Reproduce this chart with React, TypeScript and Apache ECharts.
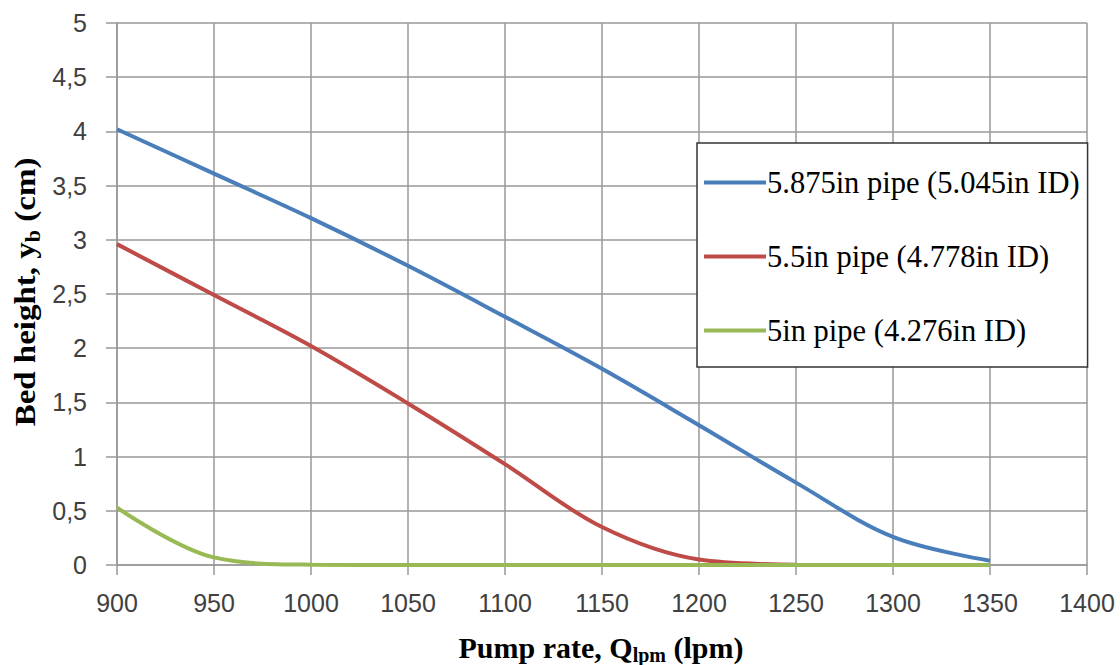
import React, { useEffect, useRef } from "react";
import * as echarts from "echarts";

// Pump rate (lpm) at which bed height was evaluated
const pumpRates = [900, 950, 1000, 1050, 1100, 1150, 1200, 1250, 1300, 1350];

// Bed height (cm) for each pipe size
const pipe5875 = [4.02, 3.61, 3.2, 2.76, 2.29, 1.81, 1.29, 0.76, 0.26, 0.04];
const pipe55 = [2.96, 2.49, 2.02, 1.49, 0.93, 0.35, 0.05, 0.003];
const pipe5 = [0.53, 0.07, 0.003, 0, 0, 0, 0, 0, 0, 0];

const seriesNames = [
  "5.875in pipe (5.045in ID)",
  "5.5in pipe (4.778in ID)",
  "5in pipe (4.276in ID)",
];
const seriesColors = ["#4a7ebb", "#be4b48", "#98b954"];

const pairs = (ys: number[]) => ys.map((y, i) => [pumpRates[i], y]);

export default function App() {
  const ref = useRef<HTMLDivElement>(null);

  useEffect(() => {
    document.body.style.margin = "0";
    const chart = echarts.init(ref.current!, null, { renderer: "svg" });
    const tickFont = {
      fontFamily: "Liberation Sans",
      fontSize: 25,
      color: "#404040",
    };
    const gridLine = { show: true, lineStyle: { color: "#999999", width: 1.5 } };
    const serif = "'Liberation Serif', 'Times New Roman', serif";
    // Main title text plus a lowered subscript token
    const titleRich = {
      a: { fontFamily: serif, fontWeight: "bold", fontSize: 30, lineHeight: 28, fill: "#000" },
      s: {
        fontFamily: serif,
        fontWeight: "bold",
        fontSize: 20,
        lineHeight: 6,
        verticalAlign: "top",
        padding: [12, 0, 0, 0],
        fill: "#000",
      },
    };

    chart.setOption({
      animation: false,
      grid: { left: 117, right: 33, top: 23, bottom: 100 },
      xAxis: {
        type: "value",
        min: 900,
        max: 1400,
        interval: 50,
        axisLine: { show: true, lineStyle: { color: "#999999", width: 1.5 } },
        axisTick: { show: true, length: 10, lineStyle: { color: "#999999", width: 1.5 } },
        splitLine: gridLine,
        axisLabel: { ...tickFont, margin: 25, formatter: (v: number) => String(v) },
      },
      yAxis: {
        type: "value",
        min: 0,
        max: 5,
        interval: 0.5,
        axisLine: { show: true, lineStyle: { color: "#999999", width: 1.5 } },
        axisTick: { show: true, length: 11, lineStyle: { color: "#999999", width: 1.5 } },
        splitLine: gridLine,
        axisLabel: {
          ...tickFont,
          margin: 30,
          formatter: (v: number) => String(v).replace(".", ","),
        },
      },
      legend: {
        orient: "vertical",
        left: 697,
        top: 143,
        padding: [24, 8, 21, 7],
        itemGap: 43,
        itemWidth: 62,
        itemHeight: 4,
        icon: "rect",
        backgroundColor: "#ffffff",
        borderColor: "#333333",
        borderWidth: 1.5,
        borderRadius: 0,
        textStyle: {
          fontFamily: serif,
          fontSize: 30.5,
          lineHeight: 24,
          color: "#000000",
          padding: [0, 0, 0, -4],
        },
        data: seriesNames,
      },
      graphic: [
        {
          type: "text",
          x: 25,
          y: 292,
          rotation: Math.PI / 2,
          scaleX: 1.1,
          style: {
            text: "{a|Bed height, y}{s|b}{a| (cm)}",
            align: "center",
            verticalAlign: "middle",
            rich: titleRich,
          },
        },
        {
          type: "text",
          x: 601,
          y: 647,
          style: {
            text: "{a|Pump rate, Q}{s|lpm}{a| (lpm)}",
            align: "center",
            verticalAlign: "middle",
            rich: titleRich,
          },
        },
      ],
      series: [pipe5875, pipe55, pipe5].map((ys, i) => ({
        name: seriesNames[i],
        type: "line",
        data: pairs(ys),
        smooth: 0.35,
        showSymbol: false,
        symbol: "none",
        color: seriesColors[i],
        lineStyle: { width: 4, color: seriesColors[i] },
        z: 3 + i,
      })),
    });

    return () => chart.dispose();
  }, []);

  return <div ref={ref} style={{ width: 1120, height: 665 }} />;
}
